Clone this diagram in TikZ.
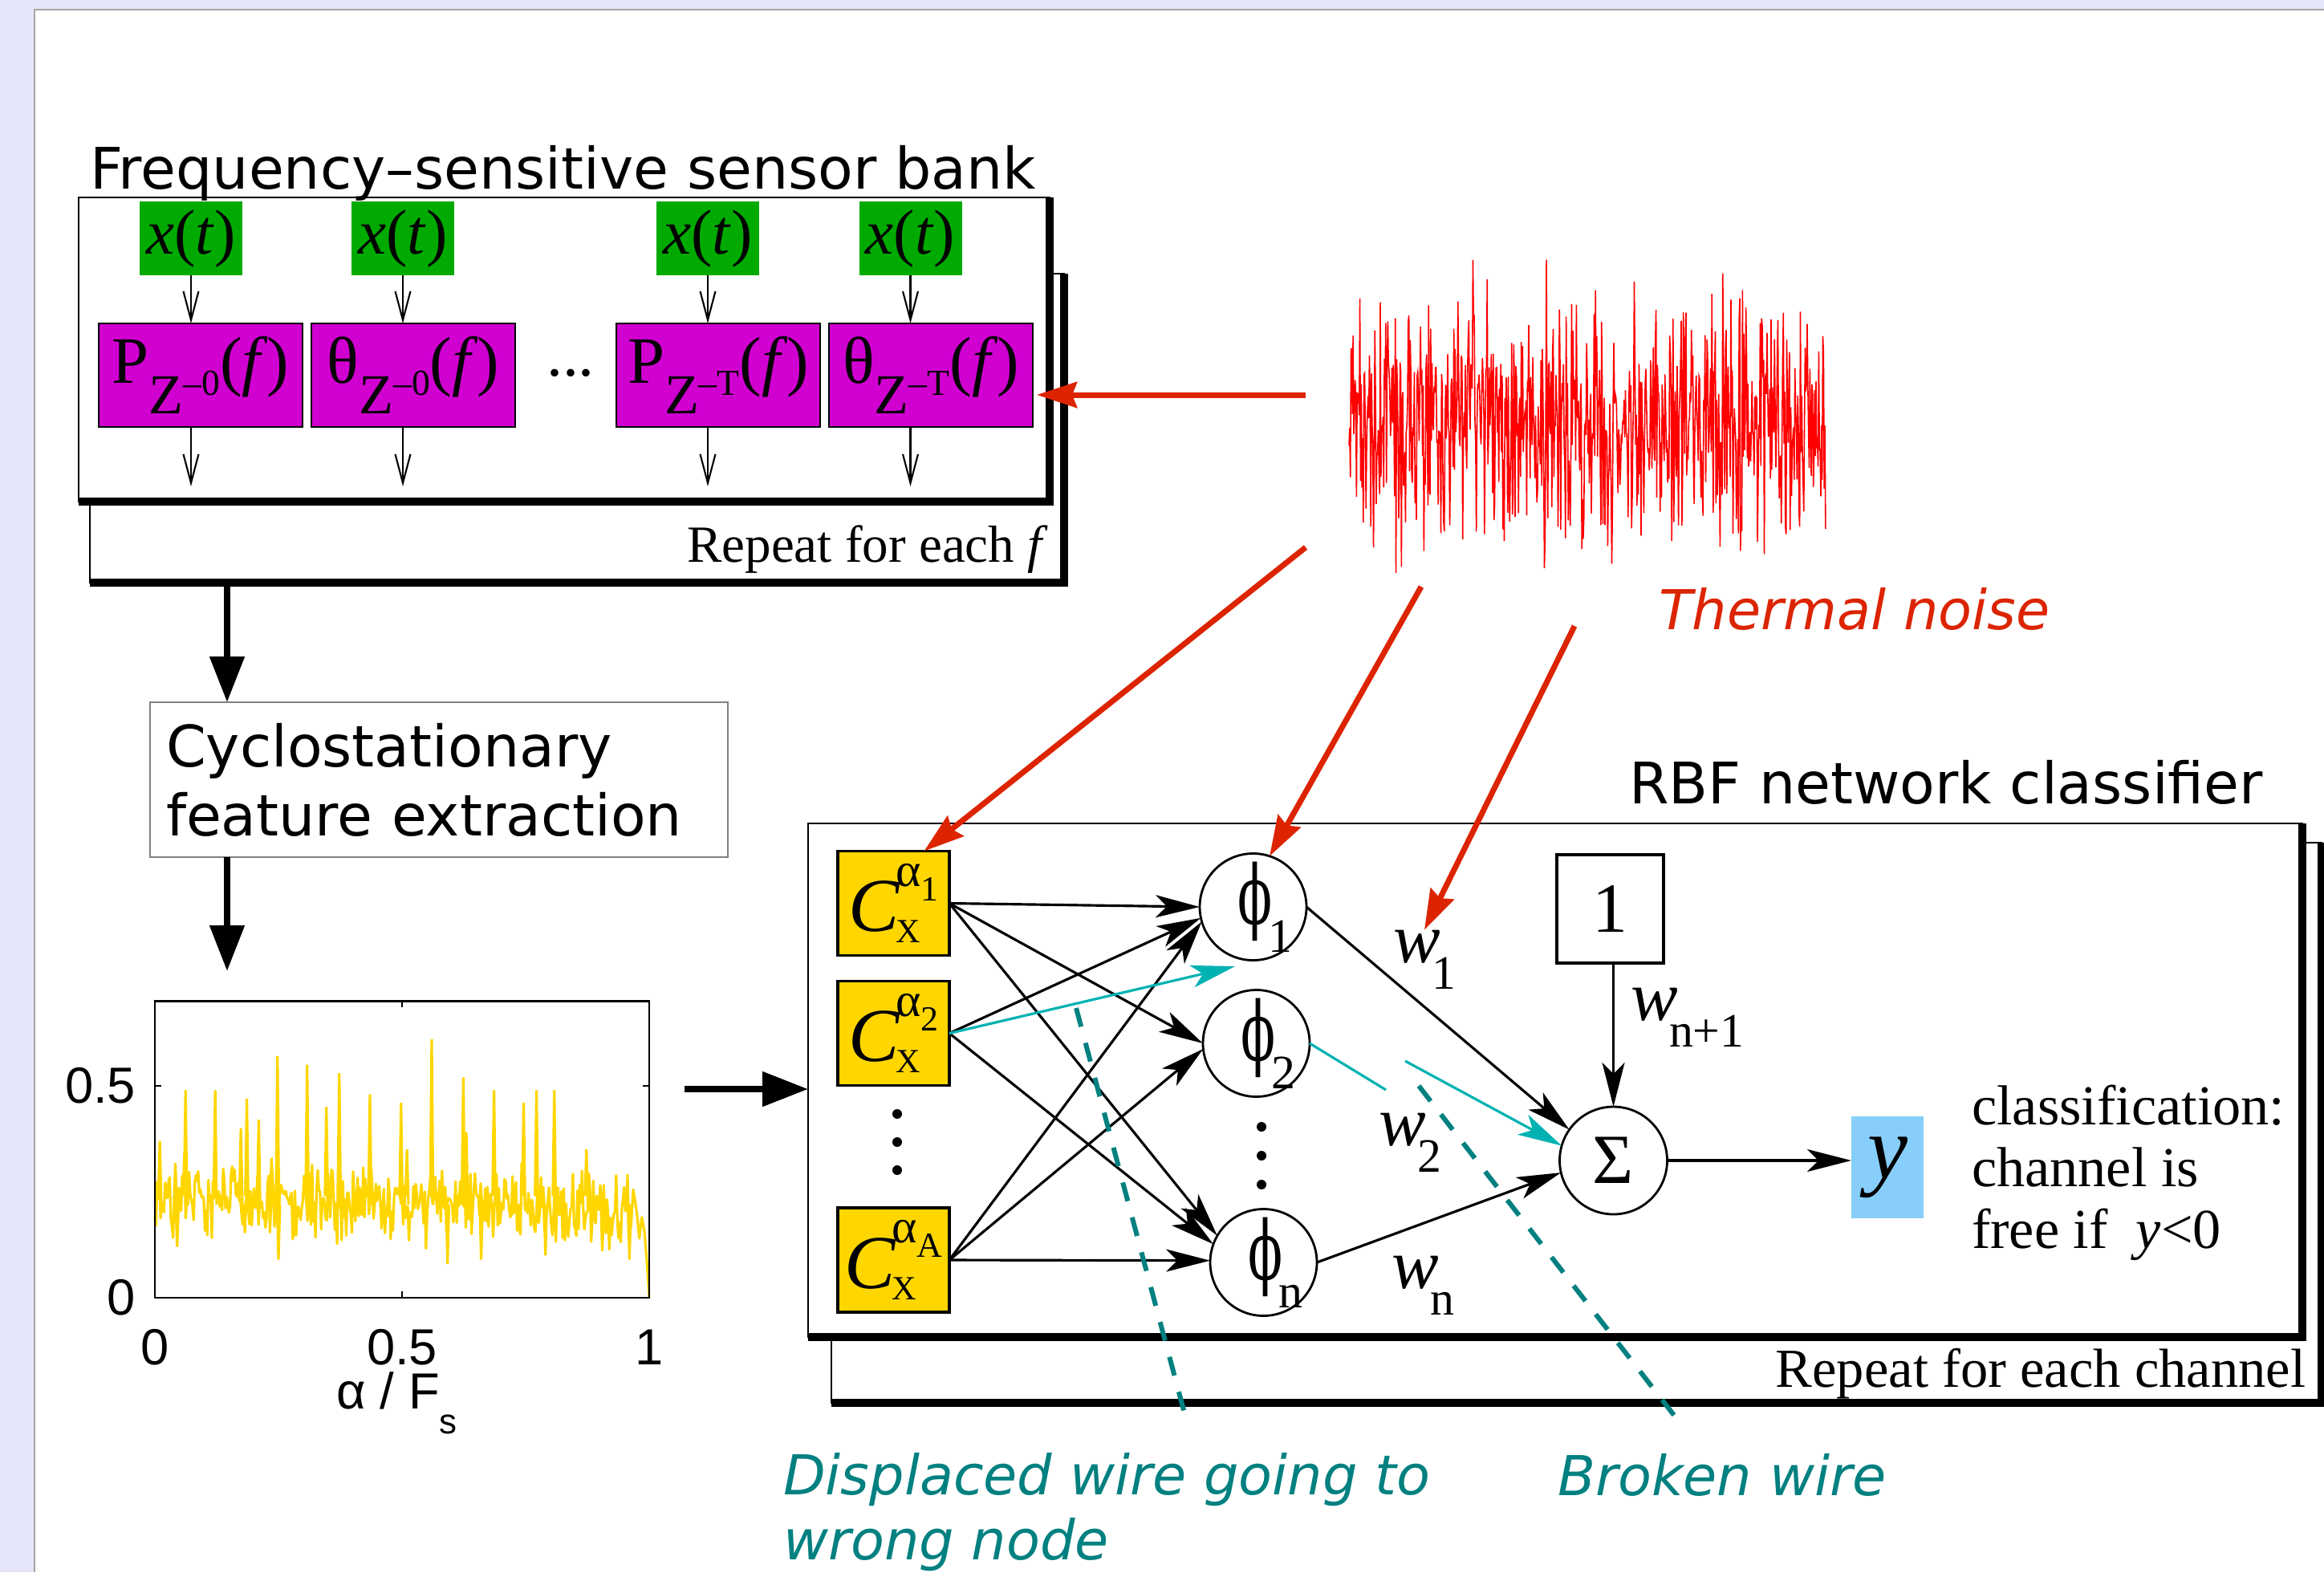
\documentclass[tikz,border=0pt]{standalone}
\usepackage{fontspec}
\setmainfont{Liberation Serif}
\newfontfamily\dejavu{DejaVu Sans}
\newfontfamily\dvserif{DejaVu Serif}
\newfontfamily\helvet{Liberation Sans}
\usetikzlibrary{arrows.meta}

\definecolor{slidebg}{RGB}{230,230,250}
\definecolor{sensorgreen}{RGB}{0,170,0}
\definecolor{sensormagenta}{RGB}{208,0,208}
\definecolor{featgold}{RGB}{255,214,0}
\definecolor{noisered}{RGB}{220,36,0}
\definecolor{faultteal}{RGB}{0,128,128}
\definecolor{wirecyan}{RGB}{0,178,178}
\definecolor{outblue}{RGB}{135,206,250}

\newcommand{\setsz}[1]{\fontsize{#1}{#1}\selectfont}
\newcommand{\sensorlbl}[2]{#1\raisebox{-10.8pt}{\setsz{20}Z\raisebox{6.5pt}{\setsz{13}–#2}}(\textit{f\kern0.1em})}
\newcommand{\featlbl}[1]{\textit{C}\kern-0.06em\rlap{\raisebox{-4pt}{\setsz{12}X}}\raisebox{16pt}{\setsz{17}α\raisebox{-5pt}{\setsz{12.5}#1}}}
\newcommand{\unitlbl}[1]{\scalebox{0.62}[1]{\dvserif\setsz{29}ϕ}\kern-0.06em\rlap{\raisebox{-10pt}{\setsz{17}#1}}}
\newcommand{\weightlbl}[1]{\textit{w}\kern-0.12em\raisebox{-9.5pt}{\setsz{17}#1}}

\begin{document}
\begin{tikzpicture}[
    every node/.style={inner sep=0pt, outer sep=0pt},
    panel/.style={draw, line width=0.7pt, fill=white},
    heavy/.style={line width=2.6pt},
    srcbox/.style={fill=sensorgreen, minimum width=1.28cm, minimum height=0.92cm, font=\setsz{22.5}},
    specbox/.style={draw, line width=0.8pt, fill=sensormagenta, minimum width=2.54cm, minimum height=1.29cm, font=\setsz{23.5}},
    tap/.style={-{Straight Barb[length=0.36cm,width=0.19cm]}, line width=0.6pt},
    flow/.style={-{Triangle[length=0.57cm,width=0.42cm]}, line width=2.3pt},
    hit/.style={-{Stealth[length=0.5cm,width=0.32cm,inset=0.06cm]}, line width=2pt, noisered},
    featbox/.style={draw, line width=0.9pt, fill=featgold, minimum width=1.39cm, minimum height=1.30cm, font=\setsz{27}},
    rbfunit/.style={circle, draw, line width=0.8pt, minimum size=1.33cm, font=\setsz{25}},
    wire/.style={-{Stealth[length=0.55cm,width=0.28cm,inset=0.14cm]}, line width=0.9pt},
    wrongwire/.style={wire, wirecyan},
    fault/.style={faultteal, line width=1.7pt, dash pattern=on 0.24cm off 0.21cm},
    heading/.style={font=\dejavu\setsz{20.3}},
    remark/.style={font=\dejavu\itshape\fontsize{19.5}{22.8}\selectfont, align=left},
    wlbl/.style={font=\setsz{25}, anchor=base west},
  ]

  % slide background
  \useasboundingbox (0,0) rectangle (28.96,-19.59);
  \fill[slidebg] (0,0) rectangle (28.96,-19.59);
  \fill[white] (0.43,-0.12) rectangle (28.96,-19.59);
  \draw[gray!70, line width=0.6pt] (0.43,-19.59) -- (0.43,-0.12) -- (28.96,-0.12);

  % Sensor bank, repeated for each f
  \node[panel, minimum width=12.14cm, minimum height=3.85cm] (bankback) at (7.19,-5.335) {};
  \draw[heavy] (bankback.south west) -- (bankback.south east) -- (bankback.north east);
  \node[panel, minimum width=12.10cm, minimum height=3.79cm] (bank) at (7.03,-4.355) {};
  \draw[heavy] (bank.south west) -- (bank.south east) -- (bank.north east);
  \node[heading, anchor=base west] (banktitle) at (1.12,-2.35) {Frequency–sensitive sensor bank};

  \foreach \i/\px in {1/2.38, 2/5.02, 3/8.82, 4/11.345}
    \node[srcbox] (x\i) at (\px,-2.97) {\textit{x}(\textit{t})};
  \node[specbox] (spec1) at (2.50,-4.675) {\sensorlbl{P}{0}};
  \node[specbox] (spec2) at (5.15,-4.675) {\sensorlbl{θ}{0}};
  \node[specbox] (spec3) at (8.95,-4.675) {\sensorlbl{P}{T}};
  \node[specbox] (spec4) at (11.60,-4.675) {\sensorlbl{θ}{T}};
  \node[font=\setsz{22.7}, anchor=base] (gap) at (7.11,-4.68) {...};

  \coordinate (bankout) at (0,-6.06);
  \foreach \i in {1,...,4} {
    \draw[tap] (x\i.south) -- (x\i |- spec\i.north);
    \draw[tap] (x\i |- spec\i.south) -- (x\i |- bankout);
  }
  \node[anchor=base east, font=\setsz{18.5}] (bankrep) at (13.06,-7.00) {Repeat for each \textit{f}};

  % Feature extraction
  \node[draw=gray, line width=0.5pt, minimum width=7.20cm, minimum height=1.93cm, text width=6.80cm, align=left,
        font=\dejavu\fontsize{20.3}{24.4}\selectfont] (cyc) at (5.47,-9.715) {Cyclostationary\\feature extraction};
  \coordinate (stem) at (2.83,0);
  \draw[flow] (bankback.south -| stem) -- (cyc.north -| stem);
  \coordinate (plotin) at (2.83,-12.10);
  \draw[flow] (cyc.south -| stem) -- (plotin);

  % Spectral correlation plot
  \begin{scope}[shift={(1.93,-16.17)}, x=6.16cm, y=5.28cm]
    \pgfmathsetseed{4}
    \draw[featgold, line width=0.9pt, line join=round] plot[domain=0:0.97, samples=420] (\x,{0.24-0.035*\x+0.055*(rand+rand)})
      -- (0.975,0.2) -- (0.98,0.14) -- (0.985,0.19) -- (0.99,0.16) -- (0.995,0.09) -- (1,0);
    \foreach \sx/\sy in {0.01/0.37, 0.062/0.49, 0.122/0.49, 0.174/0.40, 0.186/0.47, 0.21/0.42, 0.236/0.33,
        0.248/0.57, 0.308/0.55, 0.347/0.45, 0.373/0.53, 0.435/0.48, 0.498/0.46, 0.51/0.35, 0.56/0.61,
        0.624/0.52, 0.63/0.39, 0.686/0.49, 0.746/0.46, 0.772/0.49, 0.808/0.49, 0.873/0.35,
        0.045/0.12, 0.25/0.09, 0.592/0.08, 0.66/0.09, 0.79/0.1, 0.905/0.11, 0.96/0.09}
      \draw[featgold, line width=0.9pt] (\sx-0.003,0.24) -- (\sx,\sy) -- (\sx+0.003,0.22);
    \draw[line width=0.7pt] (0,0) rectangle (1,0.7);
    \draw[line width=0.7pt] (0.5,0) -- (0.5,0.015) (0.5,0.7) -- (0.5,0.685)
      (0,0.5) -- (0.013,0.5) (1,0.5) -- (0.987,0.5);
    \node[anchor=east, font=\helvet\setsz{18}] (yt1) at (-0.039,0.5) {0.5};
    \node[anchor=east, font=\helvet\setsz{18}] (yt0) at (-0.039,0) {0};
    \node[font=\helvet\setsz{18}] (xt0) at (0,-0.117) {0};
    \node[font=\helvet\setsz{18}] (xt1) at (0.5,-0.117) {0.5};
    \node[font=\helvet\setsz{18}] (xt2) at (1,-0.117) {1};
    \node[anchor=base, font=\helvet\setsz{18}] (xlbl) at (0.49,-0.263) {α / F\raisebox{-8.8pt}{\setsz{12.5}s}};
  \end{scope}

  % Thermal noise
  \pgfmathsetseed{9}
  \draw[red, line width=0.45pt] plot[domain=16.81:22.75, samples=700] (\x,{-5.23+0.74*(rand+rand+rand)});
  \node[remark, noisered, anchor=base west] (noiselbl) at (20.67,-7.84) {Thermal noise};

  % RBF network, repeated for each channel
  \node[panel, minimum width=18.57cm, minimum height=6.98cm] (rbfback) at (19.645,-13.99) {};
  \draw[heavy] (rbfback.south west) -- (rbfback.south east) -- (rbfback.north east);
  \node[panel, minimum width=18.62cm, minimum height=6.40cm] (rbf) at (19.38,-13.46) {};
  \draw[heavy] (rbf.south west) -- (rbf.south east) -- (rbf.north east);
  \node[heading, anchor=base east] (rbftitle) at (28.20,-10.01) {RBF network classifier};
  \node[anchor=base east, font=\setsz{19.5}] (rbfrep) at (28.73,-17.28) {Repeat for each channel};

  \coordinate (plotout) at (8.53,-13.57);
  \draw[flow] (plotout) -- (rbf.west |- plotout);

  \node[featbox] (c1) at (11.135,-11.255) {\featlbl{1}};
  \node[featbox] (c2) at (11.135,-12.875) {\featlbl{2}};
  \node[featbox] (cA) at (11.135,-15.70) {\featlbl{A}};
  \node[rbfunit] (phi1) at (15.615,-11.30) {\unitlbl{1}};
  \node[rbfunit] (phi2) at (15.655,-13.00) {\unitlbl{2}};
  \node[rbfunit] (phin) at (15.745,-15.73) {\unitlbl{n}};
  \node[rbfunit, minimum size=1.34cm] (sum) at (20.105,-14.46) {Σ};
  \node[draw, line width=1.1pt, minimum width=1.33cm, minimum height=1.35cm, font=\setsz{25}] (one) at (20.065,-11.325) {1};
  \node[fill=outblue, minimum width=0.90cm, minimum height=1.27cm, font=\setsz{32}] (yout) at (23.52,-14.545) {\textit{y}};
  \node[anchor=base west, align=left, font=\fontsize{20}{21.8}\selectfont] (rule) at (24.57,-15.55)
    {classification:\\channel is\\free if\hspace{10pt}\textit{y}<0};

  \foreach \k in {0,1,2} {
    \fill (11.18,{-13.88-0.35*\k}) circle (0.06);
    \fill (15.72,{-14.04-0.36*\k}) circle (0.06);
  }

  \node[wlbl] (w1) at (17.36,-11.99) {\weightlbl{1}};
  \node[wlbl] (w2) at (17.18,-14.27) {\weightlbl{2}};
  \node[wlbl] (wn) at (17.34,-16.05) {\weightlbl{n}};
  \node[wlbl] (wb) at (20.32,-12.71) {\weightlbl{n+1}};

  % wires
  \foreach \src/\dst in {c1/phi1.180, c1/phi2.180, c1/phin.150, c2/phi1.192, c2/phin.160,
                         cA/phi1.196, cA/phi2.186, cA/phin.178}
    \draw[wire] (\src.east) -- (\dst);
  \coordinate (miss) at (15.39,-12.04);
  \draw[wrongwire] (c2.east) -- (miss);
  \draw[wire] (phi1.east) -- (sum.145);
  \draw[wire] (phin.east) -- (sum.193);
  \coordinate (cutend) at (17.27,-13.58);
  \coordinate (cutstart) at (17.51,-13.22);
  \draw[wirecyan, line width=0.9pt] (phi2.east) -- (cutend);
  \draw[wrongwire] (cutstart) -- (sum.164);
  \draw[wire, line width=0.7pt] (one.south -| sum) -- (sum.north);
  \draw[wire] (sum.east) -- (sum.east -| yout.west);

  % noise arrows
  \coordinate (n1) at (16.27,-4.92);
  \coordinate (bankhit) at (12.92,-4.92);
  \draw[hit] (n1) -- (bankhit);
  \coordinate (n2) at (16.27,-6.82);
  \draw[hit] (n2) -- ([xshift=0.38cm]c1.north);
  \coordinate (n3) at (17.71,-7.31);
  \draw[hit] (n3) -- (phi1.72);
  \coordinate (n4) at (19.62,-7.80);
  \draw[hit] (n4) -- (w1.north);

  % faults
  \coordinate (slipA) at (13.41,-12.56);
  \coordinate (slipB) at (14.79,-17.72);
  \coordinate (cutA) at (17.68,-13.53);
  \coordinate (cutB) at (20.95,-17.75);
  \draw[fault] (slipA) -- (slipB);
  \draw[fault] (cutA) -- (cutB);
  \node[remark, faultteal, anchor=base west] (sliplbl) at (9.76,-19.43) {Displaced wire going to\\wrong node};
  \node[remark, faultteal, anchor=base west] (cutlbl) at (19.41,-18.63) {Broken wire};

\end{tikzpicture}
\end{document}
